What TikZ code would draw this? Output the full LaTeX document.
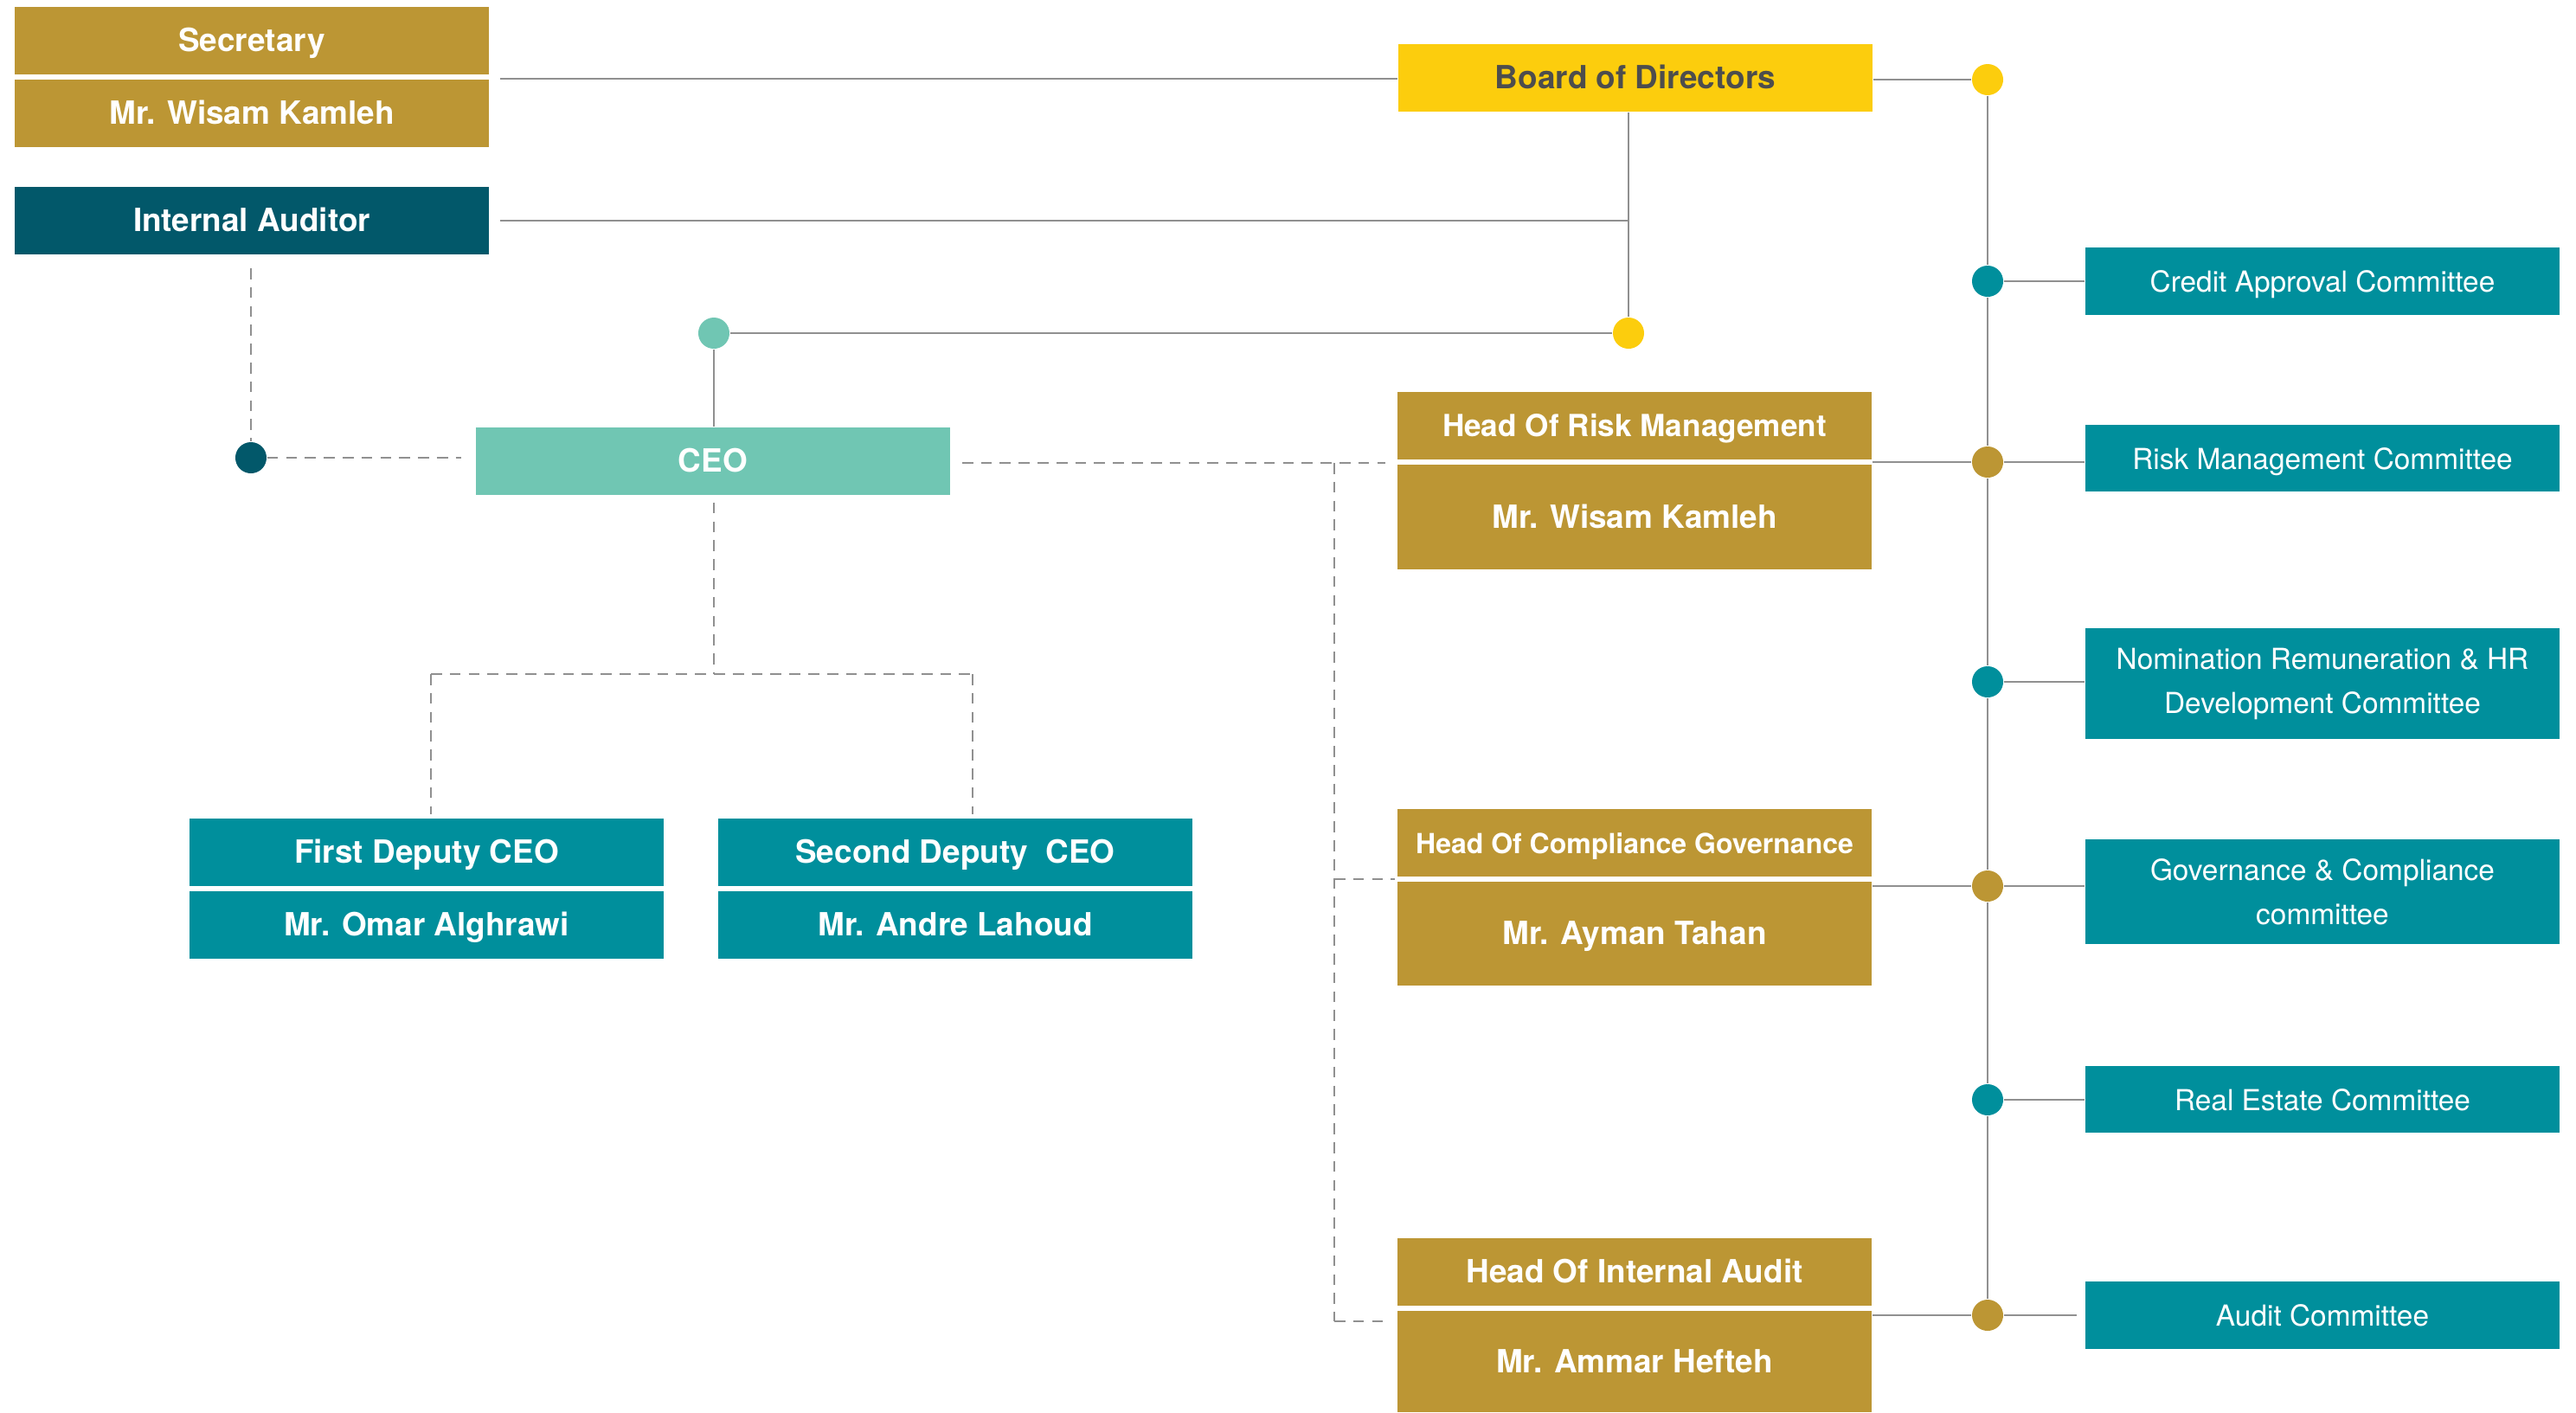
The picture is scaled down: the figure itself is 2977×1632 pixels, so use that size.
\documentclass[tikz,border=0pt]{standalone}
\usepackage{fontspec}
\setmainfont{TeX Gyre Heros}
\usetikzlibrary{calc}
\definecolor{gold}{HTML}{BC9634}
\definecolor{darkteal}{HTML}{02586A}
\definecolor{tealc}{HTML}{008F9C}
\definecolor{mint}{HTML}{70C6B3}
\definecolor{yell}{HTML}{FCCD0D}
\definecolor{boardtxt}{HTML}{4D4D4D}
\definecolor{linegray}{HTML}{909090}
\tikzset{
 basebox/.style={rectangle, inner sep=0pt, minimum width=5.48cm, minimum height=0.78cm, text=white, align=center, font=\fontsize{10.5pt}{12pt}\selectfont\bfseries},
 box/.style={basebox, text height=0.72em, text depth=0pt},
 goldbox/.style={box, fill=gold},
 tealbox/.style={box, fill=tealc},
 cbox/.style={box, fill=tealc, font=\fontsize{9.5pt}{14.5pt}\selectfont},
 cboxtwo/.style={basebox, fill=tealc, font=\fontsize{9.5pt}{14.5pt}\selectfont},
 dot/.style={circle, inner sep=0pt, minimum size=0.36cm},
 conn/.style={draw=linegray, line width=0.6pt},
 dashconn/.style={draw=linegray, line width=0.6pt, dash pattern=on 3.6pt off 2.6pt},
}
\begin{document}
\begin{tikzpicture}[x=0.01cm, y=-0.01cm]
\useasboundingbox (0,0) rectangle (2977,1632);
% boxes
\node[goldbox] (sec) at (291,47) {Secretary};
\node[goldbox] (secn) at (291,131) {Mr. Wisam Kamleh};
\node[box, fill=darkteal] (ia) at (291,255) {Internal Auditor};
\node[box, fill=yell, text=boardtxt] (board) at (1890,90) {Board of Directors};
\node[box, fill=mint] (ceo) at (824,533) {CEO};
\node[goldbox, font=\fontsize{10pt}{12pt}\selectfont\bfseries] (riskh) at (1889,492) {Head Of Risk Management};
\node[goldbox, minimum height=1.21cm] (riskn) at (1889,597.5) {Mr. Wisam Kamleh};
\node[goldbox, font=\fontsize{9.1pt}{11pt}\selectfont\bfseries] (comph) at (1889,974) {Head Of Compliance Governance};
\node[goldbox, minimum height=1.2cm] (compn) at (1889,1079) {Mr. Ayman Tahan};
\node[goldbox] (audh) at (1889,1470) {Head Of Internal Audit};
\node[goldbox, minimum height=1.17cm] (audn) at (1889,1573.5) {Mr. Ammar Hefteh};
\node[tealbox] (d1h) at (493,985) {First Deputy CEO};
\node[tealbox] (d1n) at (493,1069) {Mr. Omar Alghrawi};
\node[tealbox] (d2h) at (1104,985) {Second Deputy\ \ CEO};
\node[tealbox] (d2n) at (1104,1069) {Mr. Andre Lahoud};
\node[cbox] (credit) at (2684,325) {Credit Approval Committee};
\node[cbox, minimum height=0.77cm] (riskc) at (2684,529.5) {Risk Management Committee};
\node[cboxtwo, minimum height=1.28cm] (nom) at (2684,790) {Nomination Remuneration \& HR\\Development Committee};
\node[cboxtwo, minimum height=1.21cm] (gov) at (2684,1030.5) {Governance \& Compliance\\committee};
\node[cbox, minimum height=0.77cm] (real) at (2684,1270.5) {Real Estate Committee};
\node[cbox] (auditc) at (2684,1520) {Audit Committee};
% dots
\node[dot, fill=yell] (db) at (2297,92) {};
\node[dot, fill=tealc] (dcr) at (2297,325) {};
\node[dot, fill=gold] (dri) at (2297,534) {};
\node[dot, fill=tealc] (dno) at (2297,788) {};
\node[dot, fill=gold] (dgo) at (2297,1024) {};
\node[dot, fill=tealc] (dre) at (2297,1271) {};
\node[dot, fill=gold] (dau) at (2297,1520) {};
\node[dot, fill=yell] (dbot) at (1882,385) {};
\node[dot, fill=mint] (dceo) at (825,385) {};
\node[dot, fill=darkteal] (dia) at (290,529) {};
% solid connectors
\coordinate (secR) at (578,91);
\draw[conn] (secR) -- (secR -| board.west);
\coordinate (iaR) at (578,255);
\draw[conn] (iaR) -- (iaR -| dbot);
\draw[conn] (board.south -| dbot) -- (dbot);
\draw[conn] (dbot) -- (dceo);
\draw[conn] (dceo) -- (dceo |- ceo.north);
\draw[conn] (board.east |- db) -- (db);
\draw[conn] (db) -- (dcr);
\draw[conn] (dcr) -- (dri);
\draw[conn] (dri) -- (dno);
\draw[conn] (dno) -- (dgo);
\draw[conn] (dgo) -- (dre);
\draw[conn] (dre) -- (dau);
\draw[conn] (dcr) -- (dcr -| credit.west);
\draw[conn] (dri) -- (dri -| riskc.west);
\draw[conn] (dno) -- (dno -| nom.west);
\draw[conn] (dgo) -- (dgo -| gov.west);
\draw[conn] (dre) -- (dre -| real.west);
\draw[conn] (dau) -- ($(dau -| auditc.west)+(-9,0)$);
\draw[conn] (dri -| riskn.east) -- (dri);
\draw[conn] (dgo -| compn.east) -- (dgo);
\draw[conn] (dau -| audn.east) -- (dau);
% dashed connectors
\coordinate (iaB) at (290,310);
\draw[dashconn] (iaB) -- (dia);
\draw[dashconn] (dia) -- ($(dia -| ceo.west)+(-16,0)$);
\coordinate (spT) at (1542,535);
\coordinate (spM) at (1542,1016);
\coordinate (spB) at (1542,1527);
\draw[dashconn] ($(spT -| ceo.east)+(13,0)$) -- ($(spT -| riskn.west)+(-13,0)$);
\draw[dashconn] (spT) -- (spB);
\draw[dashconn] (spM) -- ($(spM -| compn.west)+(-2,0)$);
\draw[dashconn] (spB) -- ($(spB -| audn.west)+(-11,0)$);
\coordinate (cj) at (825,779);
\coordinate (jl) at (498,779);
\coordinate (jr) at (1124,779);
\draw[dashconn] ($(ceo.south)+(1,8)$) -- (cj);
\draw[dashconn] (jl) -- (jr);
\draw[dashconn] (jl) -- ($(jl |- d1h.north)+(0,-4)$);
\draw[dashconn] (jr) -- ($(jr |- d2h.north)+(0,-4)$);
\end{tikzpicture}
\end{document}
